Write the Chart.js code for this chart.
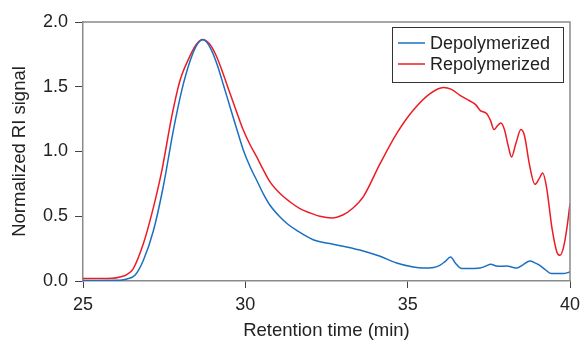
<!DOCTYPE html>
<html>
<head>
<meta charset="utf-8">
<script src="https://cdn.jsdelivr.net/npm/chart.js@4.4.0/dist/chart.umd.min.js"></script>
<style>
  html, body { margin: 0; padding: 0; background: #fff; }
  #wrap { width: 582px; height: 342px; }
</style>
</head>
<body>
<div id="wrap"><canvas id="chart"></canvas></div>
<script>
"use strict";

// DATA
const seriesNames = ["Depolymerized", "Repolymerized"];

const depolyTime = [25.0, 25.5, 26.0, 26.14, 26.35, 26.6, 26.86, 27.17, 27.47, 27.78, 28.04, 28.3, 28.5, 28.7, 28.9, 29.12, 29.33, 29.53, 29.74, 29.94, 30.15, 30.35, 30.55, 30.76, 31.07, 31.3, 31.58, 32.09, 32.6, 33.12, 33.63, 34.15, 34.66, 35.17, 35.48, 35.8, 35.99, 36.15, 36.32, 36.48, 36.66, 37.0, 37.23, 37.4, 37.56, 37.7, 37.84, 38.05, 38.2, 38.36, 38.55, 38.77, 38.92, 39.07, 39.25, 39.43, 39.79, 40.0];
const depolySignal = [0.004, 0.004, 0.005, 0.006, 0.015, 0.044, 0.16, 0.39, 0.726, 1.16, 1.47, 1.70, 1.82, 1.862, 1.81, 1.68, 1.51, 1.343, 1.17, 1.01, 0.88, 0.778, 0.675, 0.585, 0.494, 0.44, 0.391, 0.319, 0.289, 0.263, 0.232, 0.191, 0.139, 0.108, 0.100, 0.105, 0.121, 0.15, 0.185, 0.135, 0.096, 0.097, 0.10, 0.115, 0.129, 0.118, 0.113, 0.116, 0.108, 0.10, 0.125, 0.155, 0.14, 0.121, 0.085, 0.057, 0.057, 0.07];

const repolyTime = [25.0, 25.5, 25.9, 26.14, 26.35, 26.55, 26.86, 27.12, 27.43, 27.73, 27.99, 28.3, 28.5, 28.68, 28.9, 29.12, 29.33, 29.53, 29.74, 29.94, 30.15, 30.35, 30.55, 30.76, 31.07, 31.38, 31.68, 32.0, 32.3, 32.66, 33.0, 33.3, 33.63, 34.15, 34.66, 35.17, 35.69, 36.1, 36.35, 36.61, 36.92, 37.1, 37.23, 37.43, 37.55, 37.66, 37.77, 37.87, 37.98, 38.1, 38.2, 38.33, 38.49, 38.6, 38.75, 38.92, 39.05, 39.16, 39.28, 39.45, 39.6, 39.69, 39.8, 39.9, 40.0];
const repolySignal = [0.019, 0.019, 0.021, 0.031, 0.05, 0.096, 0.289, 0.52, 0.855, 1.266, 1.55, 1.74, 1.83, 1.865, 1.83, 1.73, 1.59, 1.447, 1.30, 1.164, 1.05, 0.958, 0.86, 0.765, 0.675, 0.61, 0.559, 0.525, 0.50, 0.487, 0.51, 0.56, 0.649, 0.906, 1.138, 1.318, 1.447, 1.495, 1.48, 1.434, 1.39, 1.36, 1.318, 1.293, 1.24, 1.169, 1.20, 1.22, 1.17, 1.04, 0.958, 1.06, 1.169, 1.12, 0.90, 0.747, 0.79, 0.834, 0.72, 0.40, 0.22, 0.198, 0.26, 0.40, 0.598];

const xTicks = [25, 30, 35, 40];
const yTicks = [0, 0.5, 1.0, 1.5, 2.0];

const BLUE = "#1a70c0";
const RED = "#ec1c24";
const FONT = "'Liberation Sans', Arial, sans-serif";

const toPoints = (xs, ys) => xs.map((x, i) => ({ x: x, y: ys[i] }));

// box on top/right plus the legend drawn inside the plot
const framePlugin = {
  id: "frame",
  afterDraw(chart) {
    const ctx = chart.ctx;
    const a = chart.chartArea;
    ctx.save();
    ctx.strokeStyle = "#8a8a8a";
    ctx.lineWidth = 1.5;
    ctx.beginPath();
    ctx.moveTo(a.left, a.top);
    ctx.lineTo(a.right, a.top);
    ctx.lineTo(a.right, a.bottom);
    ctx.stroke();

    // legend
    const bx = 392, by = 27, bw = 171, bh = 55;
    ctx.fillStyle = "#fff";
    ctx.fillRect(bx, by, bw, bh);
    ctx.strokeStyle = "#333";
    ctx.lineWidth = 1;
    ctx.strokeRect(bx + 0.5, by + 0.5, bw, bh);
    ctx.font = "18px " + FONT;
    ctx.textBaseline = "middle";
    chart.data.datasets.forEach((ds, i) => {
      const yy = by + 16 + i * 21;
      ctx.strokeStyle = ds.borderColor;
      ctx.lineWidth = 1.5;
      ctx.beginPath();
      ctx.moveTo(bx + 6, yy);
      ctx.lineTo(bx + 33, yy);
      ctx.stroke();
      ctx.fillStyle = "#222";
      ctx.fillText(ds.label, bx + 38, yy + 1);
    });
    ctx.restore();
  },
};

const ctx = document.getElementById("chart").getContext("2d");
const myChart = new Chart(ctx, {
  type: "line",
  data: {
    datasets: [
      {
        label: seriesNames[0],
        data: toPoints(depolyTime, depolySignal),
        borderColor: BLUE,
        borderWidth: 1.5,
        pointRadius: 0,
        cubicInterpolationMode: "monotone",
        fill: false,
      },
      {
        label: seriesNames[1],
        data: toPoints(repolyTime, repolySignal),
        borderColor: RED,
        borderWidth: 1.5,
        pointRadius: 0,
        cubicInterpolationMode: "monotone",
        fill: false,
      },
    ],
  },
  options: {
    responsive: true,
    maintainAspectRatio: false,
    animation: false,
    layout: { padding: { top: 22, right: 12, left: 0, bottom: 0 } },
    plugins: {
      legend: { display: false },
      tooltip: { enabled: false },
    },
    scales: {
      x: {
        type: "linear",
        min: 25,
        max: 40,
        afterBuildTicks: (s) => { s.ticks = xTicks.map((v) => ({ value: v })); },
        afterFit: (s) => { s.height = 61; s.paddingRight = 0; s.paddingLeft = 0; },
        grid: { drawOnChartArea: false, drawTicks: true, tickLength: 7, color: "#444" },
        border: { display: true, color: "#8a8a8a", width: 1.5 },
        ticks: { color: "#222", font: { family: FONT, size: 18 }, padding: 6, maxRotation: 0 },
        title: {
          display: true,
          text: "Retention time (min)",
          color: "#222",
          font: { family: FONT, size: 18.5 },
          padding: { top: 0, bottom: 0 },
        },
      },
      y: {
        type: "linear",
        min: 0,
        max: 2,
        afterBuildTicks: (s) => { s.ticks = yTicks.map((v) => ({ value: v })); },
        afterFit: (s) => { s.width = 83; s.paddingTop = 0; s.paddingBottom = 0; },
        grid: { drawOnChartArea: false, drawTicks: true, tickLength: 8, color: "#444" },
        border: { display: true, color: "#8a8a8a", width: 1.5 },
        ticks: {
          color: "#222",
          font: { family: FONT, size: 18 },
          padding: 7,
          callback: (v) => Number(v).toFixed(1),
        },
        title: {
          display: true,
          text: "Normalized RI signal",
          color: "#222",
          font: { family: FONT, size: 18.5 },
          padding: { top: 9, bottom: 0 },
        },
      },
    },
  },
  plugins: [framePlugin],
});
</script>
</body>
</html>
